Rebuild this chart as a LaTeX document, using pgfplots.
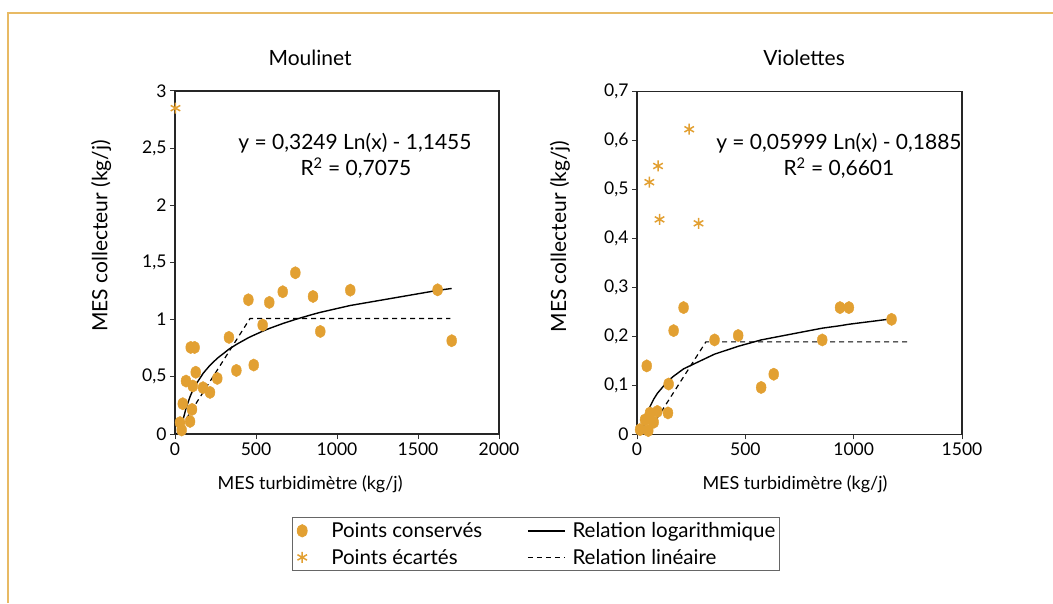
\documentclass[border=0pt]{standalone}
\usepackage{pgfplots}
\pgfplotsset{compat=1.18}
\usepackage{fontspec}
\setmainfont{Lato}
\definecolor{dotc}{RGB}{226,160,50}
\definecolor{framec}{RGB}{232,186,100}
\pgfplotsset{
  mystyle/.style={
    scale only axis,
    clip=false,
    font=\fontsize{17.5}{20}\selectfont,
    axis line style={line width=1.3pt, black!85},
    tick align=outside,
    tick pos=left,
    major tick length=5pt,
    tick style={line width=1pt, black!80},
    /pgf/number format/use comma,
    /pgf/number format/1000 sep={},
    /pgf/number format/assume math mode=true,
    title style={font=\fontsize{21}{24}\selectfont, anchor=center},
    xlabel style={anchor=center, font=\fontsize{18}{21}\selectfont},
    ylabel style={anchor=center, font=\fontsize{21}{24}\selectfont},
  },
  keep/.style={only marks, mark=*, mark size=6.2pt, mark options={xscale=0.8, draw=dotc, fill=dotc},
    legend image code/.code={\path[draw=none,fill=none] (0cm,-0.2cm) rectangle (1.22cm,0.2cm);
      \draw[mark repeat=2,mark phase=2,##1] plot coordinates {(0cm,0cm) (0.27cm,0cm) (1.22cm,0cm)};}},
  reject/.style={only marks, mark=asterisk, mark size=5.5pt, mark options={draw=dotc, line width=1.5pt},
    legend image code/.code={\path[draw=none,fill=none] (0cm,-0.2cm) rectangle (1.22cm,0.2cm);
      \draw[mark repeat=2,mark phase=2,##1] plot coordinates {(0cm,0cm) (0.27cm,0cm) (1.22cm,0cm)};}},
  logl/.style={black, line width=1.4pt, mark=none,
    legend image code/.code={\path[draw=none,fill=none] (0cm,-0.1cm) rectangle (1.5cm,0.1cm);
      \draw[##1] (0cm,0cm) -- (1.3cm,0cm);}},
  linl/.style={black, line width=1.2pt, mark=none, dash pattern=on 5pt off 4pt,
    legend image code/.code={\path[draw=none,fill=none] (0cm,-0.1cm) rectangle (1.5cm,0.1cm);
      \draw[##1] (0cm,0cm) -- (1.3cm,0cm);}},
}
\begin{document}
\begin{tikzpicture}
\path[use as bounding box] (0pt,0pt) rectangle (1053pt,603pt);
\draw[framec, line width=1.6pt] (8pt,0pt) -- (8pt,590pt) -- (1053pt,590pt);

\begin{axis}[mystyle,
  at={(175pt,169pt)}, anchor=south west,
  width=324pt, height=343pt,
  xmin=0, xmax=2000, ymin=0, ymax=3,
  xtick={0,500,1000,1500,2000},
  ytick={0,0.5,1,1.5,2,2.5,3},
  title={Moulinet},
  title style={at={(axis description cs:0.417,1.08)}},
  xlabel={MES turbidimètre (kg/j)},
  xlabel style={at={(axis description cs:0.417,-0.145)}},
  ylabel={MES collecteur (kg/j)},
  ylabel style={at={(axis description cs:-0.228,0.577)}},
  legend columns=2,
  legend cell align=left,
  legend style={at={(axis description cs:1.114,-0.321)}, anchor=center,
    draw=black!60, line width=0.8pt, font=\fontsize{20.5}{23}\selectfont,
    row sep=6pt, inner xsep=2pt, inner ysep=3pt,
    /tikz/every even column/.append style={column sep=43pt}},
]
\addplot[keep] coordinates {
(453,1.174) (582,1.151) (665,1.244) (743,1.410) (852,1.203) (1082,1.258)
(1621,1.261) (541,0.953) (897,0.897) (1708,0.816) (333,0.845) (379,0.556)
(486,0.603) (261,0.486) (173,0.405) (216,0.364) (97,0.757) (121,0.757)
(68,0.463) (128,0.540) (110,0.420) (48,0.265) (105,0.215) (93,0.110)
(41,0.035) (31,0.100)
};
\addlegendentry{Points conservés}
\addplot[logl] coordinates {
(41,0.061) (51,0.132) (68,0.225) (93,0.327) (103,0.360) (113,0.390) (123,0.418)
(130,0.436) (175,0.533) (216,0.601) (261,0.662) (335,0.744) (381,0.785)
(453,0.842) (483,0.862) (541,0.899) (582,0.923) (665,0.966) (743,1.002)
(852,1.047) (897,1.064) (1082,1.124) (1621,1.256) (1708,1.273)
};
\addlegendentry{Relation logarithmique}
\addplot[reject] coordinates {(3,2.85)};
\addlegendentry{Points écartés}
\addplot[linl] coordinates {(10,0) (463,1.01) (1700,1.01)};
\addlegendentry{Relation linéaire}
\node[anchor=center, font=\fontsize{21}{24}\selectfont] at (axis cs:1111,2.546) {y = 0,3249 Ln(x) - 1,1455};
\node[anchor=center, font=\fontsize{21}{24}\selectfont] at (axis cs:1117,2.327) {R\textsuperscript{2} = 0,7075};
\end{axis}

\begin{axis}[mystyle,
  at={(637pt,168.5pt)}, anchor=south west,
  width=325pt, height=343pt,
  xmin=0, xmax=1500, ymin=0, ymax=0.7,
  xtick={0,500,1000,1500},
  ytick={0,0.1,0.2,0.3,0.4,0.5,0.6,0.7},
  title={Violettes},
  title style={at={(axis description cs:0.514,1.08)}},
  xlabel={MES turbidimètre (kg/j)},
  xlabel style={at={(axis description cs:0.486,-0.145)}},
  ylabel={MES collecteur (kg/j)},
  ylabel style={at={(axis description cs:-0.237,0.577)}},
]
\addplot[keep] coordinates {
(215,0.259) (169,0.212) (45,0.140) (146,0.103) (143,0.044) (358,0.193)
(467,0.202) (573,0.096) (631,0.123) (855,0.193) (937,0.259) (978,0.259)
(1175,0.235) (14,0.010) (52,0.008) (37,0.030) (60,0.044) (94,0.047) (77,0.025)
};
\addplot[logl] coordinates {
(23,0.000) (30,0.016) (45,0.040) (52,0.049) (60,0.057) (77,0.072) (94,0.084)
(142,0.109) (145,0.110) (169,0.119) (215,0.134) (358,0.164) (467,0.180)
(573,0.193) (631,0.198) (855,0.217) (937,0.222) (978,0.225) (1175,0.236)
};
\addplot[reject] coordinates {(241,0.623) (97,0.548) (57,0.515) (104,0.439) (284,0.431)};
\addplot[linl] coordinates {(45,0) (318,0.189) (1255,0.189)};
\node[anchor=center, font=\fontsize{21}{24}\selectfont] at (axis cs:932,0.595) {y = 0,05999 Ln(x) - 0,1885};
\node[anchor=center, font=\fontsize{21}{24}\selectfont] at (axis cs:932,0.544) {R\textsuperscript{2} = 0,6601};
\end{axis}
\end{tikzpicture}
\end{document}
